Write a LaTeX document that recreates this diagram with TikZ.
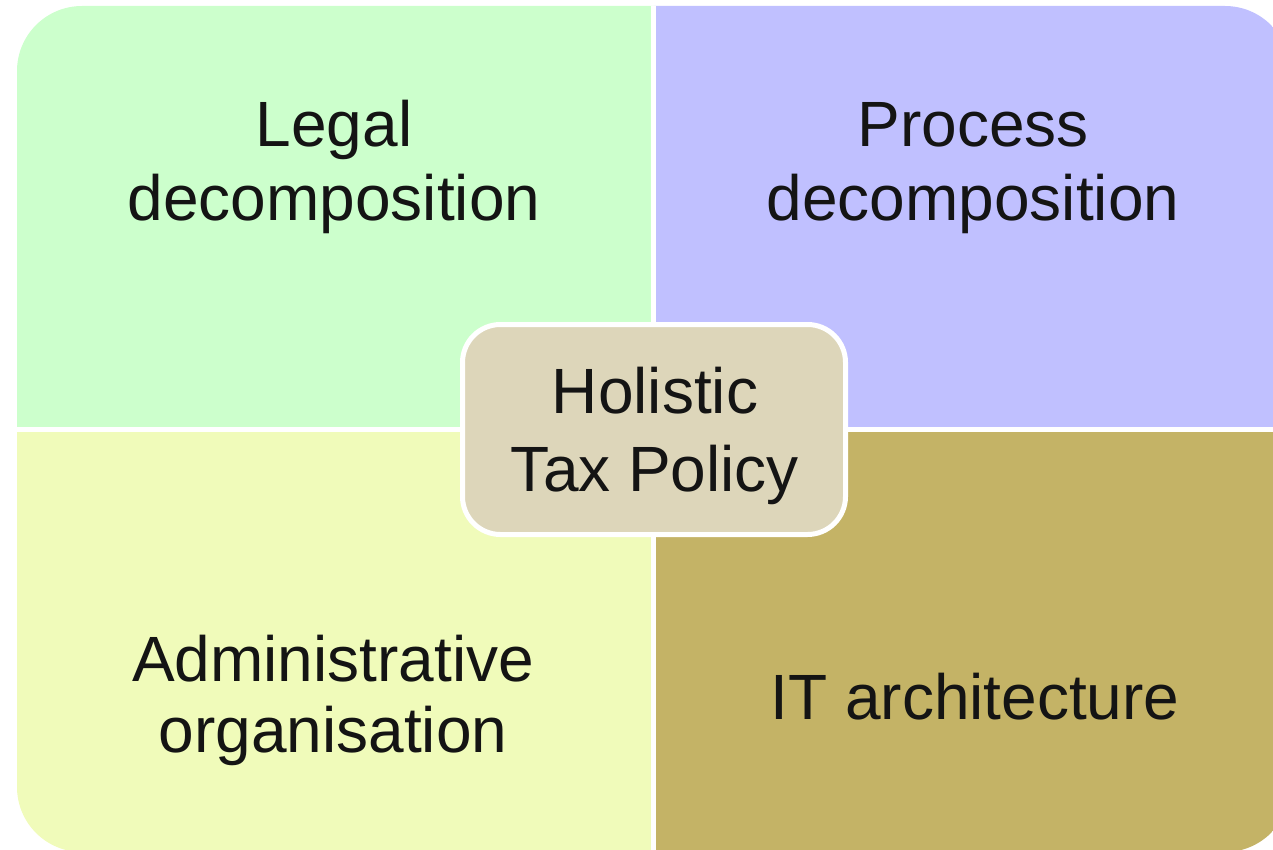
\documentclass[tikz,border=0pt]{standalone}
\usepackage{fontspec}
\setmainfont{Liberation Sans}
\definecolor{legalgreen}{RGB}{204,255,204}
\definecolor{processblue}{RGB}{192,192,255}
\definecolor{adminyellow}{RGB}{240,251,186}
\definecolor{itolive}{RGB}{196,179,102}
\definecolor{hubbeige}{RGB}{221,214,186}
\definecolor{inkblack}{RGB}{20,20,20}
\tikzset{
  % captions are placed by the baseline of their last line
  quadlabel/.style={align=center, anchor=base, text=inkblack, inner sep=0pt},
  hubbox/.style={fill=hubbeige, draw=white, line width=5pt, rounded corners=38pt,
    minimum width=383pt, minimum height=210pt, text=inkblack, align=center}
}
\begin{document}
\begin{tikzpicture}[x=1pt,y=-1pt]
  \useasboundingbox (0,0) rectangle (1273,850);
  % four quadrants inside one rounded frame, cut by the page edge
  \begin{scope}
    \clip (0,0) rectangle (1273,850);
    \clip[rounded corners=65pt] (17,6) rectangle (1290,852);
    \fill[legalgreen]   (0,0)       rectangle (653.5,429.5);
    \fill[processblue]  (653.5,0)   rectangle (1300,429.5);
    \fill[adminyellow]  (0,429.5)   rectangle (653.5,860);
    \fill[itolive]      (653.5,429.5) rectangle (1300,860);
    \draw[white, line width=5pt] (653.5,0) -- (653.5,860);
    \draw[white, line width=5pt] (0,429.5) -- (1300,429.5);
  \end{scope}
  % quadrant captions
  \node[quadlabel, font={\fontsize{64}{74}\selectfont}] (legal) at (334,221) {Legal\\decomposition};
  \node[quadlabel, font={\fontsize{64}{74}\selectfont}] (process) at (973,221) {Process\\decomposition};
  \node[quadlabel, font={\fontsize{64}{71}\selectfont}] (admin) at (333,752) {Administrative\\organisation};
  \node[quadlabel, font={\fontsize{64}{74}\selectfont}] (it) at (975,719) {IT architecture};
  % central box
  \node[hubbox] (hub) at (654,429.5) {};
  \node[quadlabel, font={\fontsize{64}{78}\selectfont}] (hubtext) at (655,491) {Holistic\\Tax Policy};
\end{tikzpicture}
\end{document}
